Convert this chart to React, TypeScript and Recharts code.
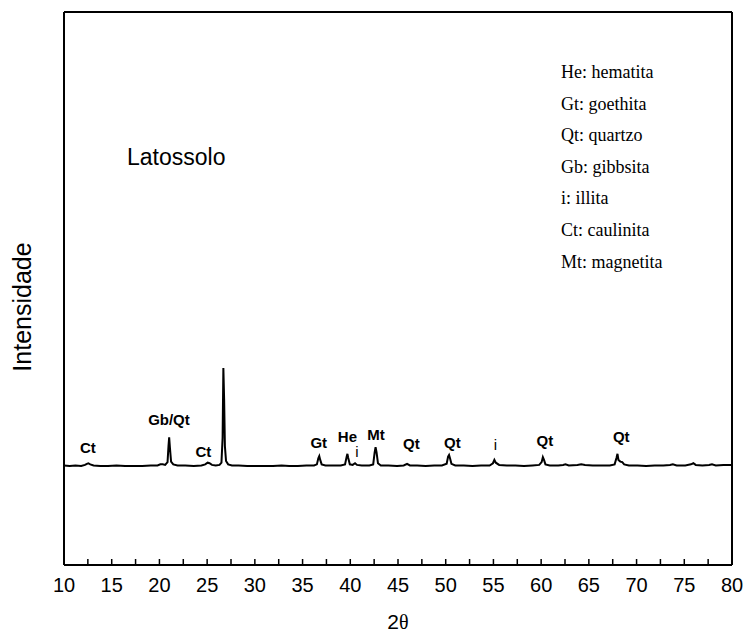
import React from 'react';
import { LineChart, Line, XAxis, YAxis, ReferenceDot, ReferenceLine } from 'recharts';

// XRD pattern: [2θ, intensity (arbitrary units)]
const pattern: [number, number][] = [
  [10, 180], [10.6, 179], [11.2, 180], [11.8, 179], [12.2, 181], [12.4, 183], [12.55, 184], [12.75, 182],
  [13.1, 180], [13.8, 179], [14.6, 179], [15.5, 180], [16.4, 179], [17.3, 179], [18.2, 179], [19.1, 180],
  [19.8, 180], [20.1, 182], [20.35, 182], [20.6, 181], [20.85, 186], [20.95, 215], [21.02, 231], [21.1, 212],
  [21.22, 187], [21.45, 182], [21.9, 180], [22.7, 180], [23.6, 179], [24.4, 180], [24.8, 182], [25.05, 185],
  [25.25, 184], [25.5, 181], [25.9, 180], [26.3, 181], [26.5, 185], [26.62, 230], [26.7, 356], [26.78, 300],
  [26.86, 215], [26.98, 188], [27.2, 182], [27.6, 180], [28.3, 180], [29.2, 179], [30.1, 179], [31, 179],
  [31.9, 179], [32.8, 180], [33.6, 179], [34.5, 179], [35.4, 180], [36.2, 180], [36.5, 182], [36.65, 193],
  [36.75, 197], [36.85, 190], [37, 182], [37.4, 180], [38.2, 180], [39, 180], [39.45, 182], [39.62, 196],
  [39.7, 201], [39.78, 194], [39.95, 182], [40.25, 181], [40.5, 184], [40.7, 181], [41.2, 180], [42, 180],
  [42.4, 182], [42.55, 203], [42.65, 213], [42.75, 204], [42.9, 184], [43.2, 180], [44, 180], [44.9, 179],
  [45.6, 180], [45.95, 183], [46.25, 180], [47, 180], [47.9, 179], [48.8, 180], [49.6, 180], [50.1, 183],
  [50.25, 196], [50.35, 199], [50.45, 193], [50.6, 183], [51, 180], [51.9, 180], [52.8, 179], [53.7, 180],
  [54.6, 180], [54.95, 184], [55.1, 190], [55.25, 185], [55.6, 181], [56.4, 180], [57.3, 180], [58.2, 179],
  [59.1, 180], [59.8, 181], [60.05, 186], [60.18, 195], [60.3, 190], [60.45, 182], [60.9, 180], [61.8, 180],
  [62.3, 181], [62.55, 182], [62.9, 180], [63.8, 181], [64.2, 182], [64.6, 181], [65.4, 180], [66.3, 180],
  [67.2, 180], [67.7, 182], [67.9, 194], [68.0, 201], [68.1, 190], [68.3, 187], [68.5, 186], [68.7, 182],
  [69.2, 180], [70.1, 180], [71, 179], [71.9, 180], [72.8, 180], [73.5, 181], [73.8, 182], [74.2, 180],
  [75.1, 180], [75.7, 182], [75.95, 184], [76.2, 181], [76.9, 180], [77.6, 181], [77.9, 182], [78.3, 180],
  [79.1, 181], [80, 181],
];

const xTicks = [10, 12.5, 15, 17.5, 20, 22.5, 25, 27.5, 30, 32.5, 35, 37.5, 40, 42.5, 45, 47.5, 50, 52.5, 55, 57.5, 60, 62.5, 65, 67.5, 70, 72.5, 75, 77.5, 80];
const yTicks = [100, 200, 300, 400, 500, 600, 700, 800, 900];

// peak identification labels: 2θ, height of the label, text, bold
const peakLabels: { at: number; level: number; text: string; bold: boolean }[] = [
  { at: 12.5, level: 213, text: 'Ct', bold: true },
  { at: 21.0, level: 264, text: 'Gb/Qt', bold: true },
  { at: 24.6, level: 206, text: 'Ct', bold: true },
  { at: 36.7, level: 222, text: 'Gt', bold: true },
  { at: 39.7, level: 232, text: 'He', bold: true },
  { at: 40.7, level: 205, text: 'i', bold: false },
  { at: 42.7, level: 236, text: 'Mt', bold: true },
  { at: 46.4, level: 219, text: 'Qt', bold: true },
  { at: 50.7, level: 221, text: 'Qt', bold: true },
  { at: 55.2, level: 217, text: 'i', bold: false },
  { at: 60.4, level: 226, text: 'Qt', bold: true },
  { at: 68.4, level: 232, text: 'Qt', bold: true },
];

const phaseKey = ['He: hematita', 'Gt: goethita', 'Qt: quartzo', 'Gb: gibbsita', 'i: illita', 'Ct: caulinita', 'Mt: magnetita'];
const sampleName = 'Latossolo';
const yTitle = 'Intensidade';

const data = pattern.map(([t, i]) => ({ t, i }));

const sans = '"Liberation Sans", Arial, sans-serif';
const narrow = '"Liberation Sans Narrow", "Arial Narrow", "Liberation Sans", Arial, sans-serif';
const serif = '"Liberation Serif", "Times New Roman", serif';
const frame = { stroke: '#000', strokeWidth: 2 };

export default function App() {
  return (
    <div style={{ position: 'absolute', left: 0, top: 0, width: 744, height: 634, background: '#fff' }}>
      <LineChart width={744} height={634} data={data} margin={{ top: 12, right: 12, left: 63, bottom: 39 }}>
        <XAxis
          dataKey="t"
          type="number"
          domain={[10, 80]}
          ticks={xTicks}
          interval={0}
          height={30}
          tickSize={-6}
          tickMargin={19}
          tickLine={{ stroke: '#000', strokeWidth: 1.5 }}
          tickFormatter={(v: number) => (v % 5 === 0 ? String(v) : '')}
          tick={{ fill: '#000', fontFamily: narrow, fontSize: 20 }}
          axisLine={frame}
        />
        <YAxis
          type="number"
          domain={[0, 1000]}
          ticks={yTicks}
          width={1}
          tickSize={-3}
          tickLine={{ stroke: '#888', strokeWidth: 1 }}
          tick={false}
          axisLine={frame}
        />
        <ReferenceLine x={10} stroke="#000" strokeWidth={2} />
        <ReferenceLine x={80} stroke="#000" strokeWidth={2} />
        <ReferenceLine y={1000} stroke="#000" strokeWidth={2} />
        <ReferenceLine y={0} stroke="#000" strokeWidth={2} />
        <Line type="linear" dataKey="i" stroke="#000" strokeWidth={2} dot={false} isAnimationActive={false} />
        {peakLabels.map((p, k) => (
          <ReferenceDot
            key={k}
            x={p.at}
            y={p.level}
            r={0}
            shape={(s: any) => (
              <text
                x={s.cx}
                y={s.cy}
                textAnchor="middle"
                dominantBaseline="central"
                fontFamily={sans}
                fontSize={15}
                fontWeight={p.bold ? 700 : 400}
                fill="#000"
              >
                {p.text}
              </text>
            )}
          />
        ))}
      </LineChart>
      <div style={{ position: 'absolute', left: 127, top: 142, fontFamily: sans, fontSize: 23, lineHeight: '30px', color: '#000' }}>
        {sampleName}
      </div>
      <div style={{ position: 'absolute', left: 561, top: 60, fontFamily: serif, fontSize: 18, color: '#000' }}>
        {phaseKey.map((line) => (
          <div key={line} style={{ height: 31.6, lineHeight: '24px' }}>{line}</div>
        ))}
      </div>
      <div
        style={{
          position: 'absolute',
          left: 22,
          top: 307,
          transform: 'translate(-50%, -50%) rotate(-90deg)',
          fontFamily: sans,
          fontSize: 25,
          whiteSpace: 'nowrap',
          color: '#000',
        }}
      >
        {yTitle}
      </div>
      <div style={{ position: 'absolute', left: 398, top: 622, transform: 'translate(-50%, -50%)', color: '#000', whiteSpace: 'nowrap' }}>
        <span style={{ fontFamily: narrow, fontSize: 21 }}>2</span>
        <span style={{ fontFamily: serif, fontSize: 20 }}>θ</span>
      </div>
    </div>
  );
}
